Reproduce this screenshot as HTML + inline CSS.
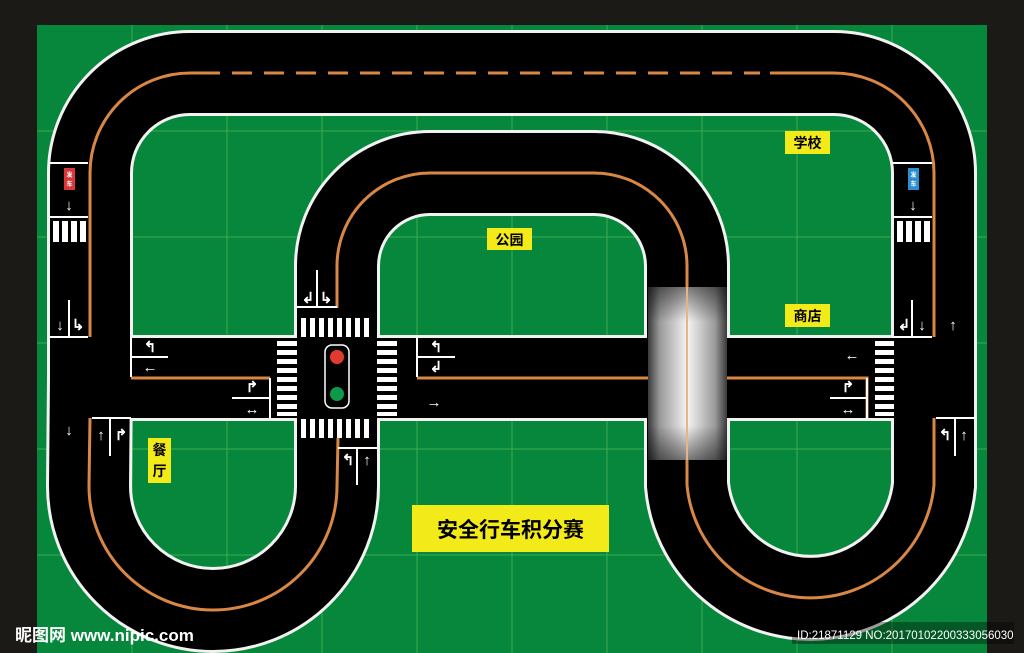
<!DOCTYPE html>
<html><head><meta charset="utf-8"><style>
html,body{margin:0;padding:0;background:#1c1a16;}
svg{display:block}
.t{font-family:"Liberation Sans","Noto Sans CJK SC",sans-serif;font-weight:bold;}
</style></head><body>
<svg width="1024" height="653" viewBox="0 0 1024 653" xmlns="http://www.w3.org/2000/svg">
<defs>
<linearGradient id="br" x1="0" x2="1" y1="0" y2="0">
<stop offset="0" stop-color="#3a3a3a"/><stop offset="0.15" stop-color="#9a9a9a"/><stop offset="0.5" stop-color="#f4f4f4"/><stop offset="0.85" stop-color="#9a9a9a"/><stop offset="1" stop-color="#3a3a3a"/>
</linearGradient>
<linearGradient id="bv" x1="0" x2="0" y1="0" y2="1">
<stop offset="0" stop-color="#000" stop-opacity="0.5"/><stop offset="0.2" stop-color="#000" stop-opacity="0"/><stop offset="0.8" stop-color="#000" stop-opacity="0"/><stop offset="1" stop-color="#000" stop-opacity="0.5"/>
</linearGradient>
</defs>
<rect width="1024" height="653" fill="#1c1a16"/>
<rect x="37" y="25" width="950" height="628" fill="#06873b"/>
<g stroke="#3fae4f" stroke-width="1">
<line x1="132" y1="25" x2="132" y2="653"/><line x1="227" y1="25" x2="227" y2="653"/><line x1="322" y1="25" x2="322" y2="653"/><line x1="417" y1="25" x2="417" y2="653"/><line x1="512" y1="25" x2="512" y2="653"/><line x1="607" y1="25" x2="607" y2="653"/><line x1="702" y1="25" x2="702" y2="653"/><line x1="797" y1="25" x2="797" y2="653"/><line x1="892" y1="25" x2="892" y2="653"/>
<line x1="37" y1="131" x2="987" y2="131"/><line x1="37" y1="237" x2="987" y2="237"/><line x1="37" y1="343" x2="987" y2="343"/><line x1="37" y1="449" x2="987" y2="449"/><line x1="37" y1="555" x2="987" y2="555"/>
</g>
<!-- roads -->
<g fill="none">
<path id="loop" d="M90,378 L90,173 A100,100 0 0 1 190,73 L834,73 A100,100 0 0 1 934,173 L934,485 A124,124 0 0 1 687,485 L687,266 A93,93 0 0 0 594,173 L430,173 A93,93 0 0 0 337,266 L337,486 A124,124 0 0 1 89,486 Z" stroke="#f2f2f2" stroke-width="86"/>
<line x1="90" y1="378" x2="934" y2="378" stroke="#f2f2f2" stroke-width="86"/>
<path d="M90,378 L90,173 A100,100 0 0 1 190,73 L834,73 A100,100 0 0 1 934,173 L934,485 A124,124 0 0 1 687,485 L687,266 A93,93 0 0 0 594,173 L430,173 A93,93 0 0 0 337,266 L337,486 A124,124 0 0 1 89,486 Z" stroke="#000" stroke-width="80"/>
<line x1="90" y1="378" x2="934" y2="378" stroke="#000" stroke-width="80"/>
<!-- orange -->
<g stroke="#d98745" stroke-width="3">
<path d="M90,337 L90,173 A100,100 0 0 1 190,73 L200,73"/>
<line x1="200" y1="73" x2="760" y2="73" stroke-dasharray="20,12"/>
<path d="M770,73 L834,73 A100,100 0 0 1 934,173 L934,337"/>
<path d="M934,418 L934,485 A124,124 0 0 1 687,485 L687,460"/>
<path d="M687,287 L687,266 A93,93 0 0 0 594,173 L430,173 A93,93 0 0 0 337,266 L337,308"/>
<path d="M338,438 L337,486 A124,124 0 0 1 89,486 L90,418"/>
<path d="M131,378 L270,378"/>
<path d="M417,378 L648,378 M727,378 L867,378 L867,418"/>
</g>
</g>
<!-- lane boxes left/right top -->
<g stroke="#fff" stroke-width="2">
<line x1="49" y1="163" x2="88" y2="163"/><line x1="49" y1="217" x2="88" y2="217"/>
<line x1="893" y1="163" x2="932" y2="163"/><line x1="893" y1="217" x2="932" y2="217"/>
<line x1="131" y1="337" x2="131" y2="377"/><line x1="131" y1="357" x2="168" y2="357"/>
<line x1="417" y1="337" x2="417" y2="377"/><line x1="417" y1="357" x2="455" y2="357"/>
<line x1="270" y1="378" x2="270" y2="418"/><line x1="232" y1="398" x2="270" y2="398"/>
<line x1="867" y1="378" x2="867" y2="418"/><line x1="830" y1="398" x2="867" y2="398"/>
<line x1="49" y1="337" x2="88" y2="337"/><line x1="69" y1="300" x2="69" y2="337"/>
<line x1="893" y1="337" x2="932" y2="337"/><line x1="912" y1="300" x2="912" y2="337"/>
<line x1="297" y1="307" x2="337" y2="307"/><line x1="317" y1="270" x2="317" y2="307"/>
<line x1="92" y1="418" x2="131" y2="418"/><line x1="110" y1="418" x2="110" y2="456"/>
<line x1="338" y1="448" x2="377" y2="448"/><line x1="357" y1="448" x2="357" y2="485"/>
<line x1="936" y1="418" x2="975" y2="418"/><line x1="955" y1="418" x2="955" y2="456"/>
</g>
<!-- crosswalks -->
<g fill="#fff">
<rect x="53" y="221" width="6" height="21"/><rect x="62" y="221" width="6" height="21"/><rect x="71" y="221" width="6" height="21"/><rect x="80" y="221" width="6" height="21"/>
<rect x="897" y="221" width="6" height="21"/><rect x="906" y="221" width="6" height="21"/><rect x="915" y="221" width="6" height="21"/><rect x="924" y="221" width="6" height="21"/>
</g>
<g fill="#fff" id="cwv">
<rect x="301" y="318" width="5" height="19"/><rect x="310" y="318" width="5" height="19"/><rect x="319" y="318" width="5" height="19"/><rect x="328" y="318" width="5" height="19"/><rect x="337" y="318" width="5" height="19"/><rect x="346" y="318" width="5" height="19"/><rect x="355" y="318" width="5" height="19"/><rect x="364" y="318" width="5" height="19"/>
<rect x="301" y="419" width="5" height="19"/><rect x="310" y="419" width="5" height="19"/><rect x="319" y="419" width="5" height="19"/><rect x="328" y="419" width="5" height="19"/><rect x="337" y="419" width="5" height="19"/><rect x="346" y="419" width="5" height="19"/><rect x="355" y="419" width="5" height="19"/><rect x="364" y="419" width="5" height="19"/>
</g>
<g fill="#fff">
<rect x="277" y="341" width="20" height="5"/><rect x="277" y="350" width="20" height="5"/><rect x="277" y="359" width="20" height="5"/><rect x="277" y="368" width="20" height="5"/><rect x="277" y="377" width="20" height="5"/><rect x="277" y="386" width="20" height="5"/><rect x="277" y="395" width="20" height="5"/><rect x="277" y="404" width="20" height="5"/><rect x="277" y="412" width="20" height="4"/>
<rect x="377" y="341" width="20" height="5"/><rect x="377" y="350" width="20" height="5"/><rect x="377" y="359" width="20" height="5"/><rect x="377" y="368" width="20" height="5"/><rect x="377" y="377" width="20" height="5"/><rect x="377" y="386" width="20" height="5"/><rect x="377" y="395" width="20" height="5"/><rect x="377" y="404" width="20" height="5"/><rect x="377" y="412" width="20" height="4"/>
<rect x="875" y="341" width="19" height="5"/><rect x="875" y="350" width="19" height="5"/><rect x="875" y="359" width="19" height="5"/><rect x="875" y="368" width="19" height="5"/><rect x="875" y="377" width="19" height="5"/><rect x="875" y="386" width="19" height="5"/><rect x="875" y="395" width="19" height="5"/><rect x="875" y="404" width="19" height="5"/><rect x="875" y="412" width="19" height="4"/>
</g>
<!-- traffic light -->
<rect x="325" y="345" width="24" height="63" rx="7" fill="#000" stroke="#fff" stroke-width="1.5"/>
<circle cx="337" cy="357" r="7" fill="#e33a2f"/><circle cx="337" cy="394" r="7" fill="#0a9a4a"/>
<!-- bridge -->
<rect x="648" y="287" width="79" height="173" fill="url(#br)"/>
<rect x="648" y="287" width="79" height="173" fill="url(#bv)"/>
<line x1="687" y1="287" x2="687" y2="460" stroke="#e7b48a" stroke-width="2"/>
<!-- start labels -->
<rect x="64" y="168" width="11" height="22" fill="#d8383a"/>
<text x="69.5" y="177" class="t" font-size="6" fill="#fff" text-anchor="middle">发</text>
<text x="69.5" y="186" class="t" font-size="6" fill="#fff" text-anchor="middle">车</text>
<rect x="908" y="168" width="11" height="22" fill="#2c8fd0"/>
<text x="913.5" y="177" class="t" font-size="6" fill="#fff" text-anchor="middle">发</text>
<text x="913.5" y="186" class="t" font-size="6" fill="#fff" text-anchor="middle">车</text>
<!-- arrows -->
<g class="t" fill="#fff" font-size="15" text-anchor="middle">
<text x="69" y="210">↓</text><text x="913" y="210">↓</text>
<text x="60" y="330">↓</text><text x="78" y="330">↳</text>
<text x="904" y="330">↲</text><text x="922" y="330">↓</text>
<text x="953" y="330">↑</text>
<text x="308" y="303">↲</text><text x="326" y="303">↳</text>
<text x="150" y="352">↰</text><text x="150" y="372">←</text>
<text x="436" y="352">↰</text><text x="436" y="372">↲</text>
<text x="434" y="407">→</text>
<text x="252" y="392">↱</text><text x="252" y="414">↔</text>
<text x="848" y="392">↱</text><text x="848" y="414">↔</text>
<text x="852" y="360">←</text>
<text x="69" y="435">↓</text>
<text x="101" y="440">↑</text><text x="121" y="440">↱</text>
<text x="348" y="465">↰</text><text x="367" y="465">↑</text>
<text x="945" y="440">↰</text><text x="964" y="440">↑</text>
</g>
<!-- place labels -->
<rect x="487" y="228" width="45" height="22" fill="#f3ea1a"/>
<text x="509.5" y="245" class="t" font-size="14" fill="#000" text-anchor="middle">公园</text>
<rect x="785" y="131" width="45" height="23" fill="#f3ea1a"/>
<text x="807.5" y="148" class="t" font-size="14" fill="#000" text-anchor="middle">学校</text>
<rect x="785" y="304" width="45" height="23" fill="#f3ea1a"/>
<text x="807.5" y="321" class="t" font-size="14" fill="#000" text-anchor="middle">商店</text>
<rect x="148" y="438" width="23" height="45" fill="#f3ea1a"/>
<text x="159.5" y="455" class="t" font-size="14" fill="#000" text-anchor="middle">餐</text>
<text x="159.5" y="476" class="t" font-size="14" fill="#000" text-anchor="middle">厅</text>
<rect x="412" y="505" width="197" height="47" fill="#f3ea1a"/>
<text x="510.5" y="537" class="t" font-size="21" fill="#000" text-anchor="middle">安全行车积分赛</text>
<!-- watermarks -->
<text x="15" y="641" class="t" font-size="17" fill="#fff">昵图网 www.nipic.com</text>
<rect x="792" y="622" width="222" height="22" fill="#000" fill-opacity="0.35"/>
<text x="797" y="639" font-family="Liberation Sans, sans-serif" font-size="11.5" fill="#fff">ID:21871129 NO:20170102200333056030</text>
</svg>
</body></html>
